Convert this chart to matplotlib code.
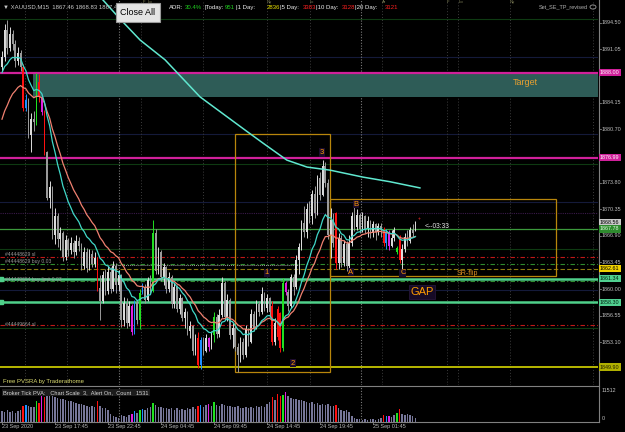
import matplotlib
matplotlib.use("Agg")
import matplotlib.pyplot as plt
from matplotlib.patches import Rectangle, Circle
import matplotlib.transforms as mtransforms

plt.rcParams['font.family'] = ['Liberation Sans', 'DejaVu Sans']

# ---------------- data ----------------
opens = [1888.8,1890.0,1893.6,1891.2,1893.0,1891.8,1889.5,1890.6,1888.8,1883.4,
         1884.5,1880.0,1882.0,1881.6,1886.8,1884.9,1882.9,1877.7,1871.8,1873.2,
         1867.0,1869.5,1866.5,1867.2,1864.2,1866.4,1865.0,1866.0,1864.8,1866.2,
         1865.6,1863.0,1864.8,1862.7,1864.6,1863.2,1864.0,1860.1,1858.5,1861.8,
         1859.8,1862.2,1860.0,1863.0,1860.5,1861.8,1856.0,1858.2,1855.6,1857.8,
         1854.4,1858.2,1856.0,1859.5,1860.3,1858.6,1861.2,1859.8,1867.3,1862.4,
         1864.8,1861.6,1862.8,1860.0,1861.5,1858.0,1860.2,1857.4,1858.8,1856.2,
         1857.0,1854.5,1855.2,1852.0,1853.6,1850.1,1853.4,1852.0,1853.6,1852.5,
         1854.0,1856.4,1854.2,1856.6,1860.8,1856.4,1858.6,1854.0,1855.0,1852.5,
         1851.4,1853.2,1851.5,1854.8,1853.2,1856.8,1855.0,1858.0,1857.0,1859.4,
         1857.6,1858.8,1857.8,1853.1,1857.4,1856.9,1852.3,1860.8,1859.6,1857.8,
         1861.6,1860.2,1863.8,1865.4,1868.5,1867.4,1870.4,1869.4,1872.3,1869.8,
         1874.4,1872.2,1876.0,1873.8,1867.0,1869.0,1869.8,1863.4,1866.6,1863.4,
         1865.8,1863.0,1866.0,1869.5,1868.0,1869.6,1867.8,1869.4,1867.8,1868.8,
         1867.2,1868.4,1867.4,1868.2,1867.6,1866.0,1867.4,1865.6,1866.6,1864.8,
         1866.8,1863.8,1865.2,1866.8,1866.2,1867.6,1867.46]
highs = [1890.8,1894.3,1894.9,1893.9,1893.6,1892.2,1891.4,1891.0,1889.2,1885.2,
         1884.8,1882.8,1883.0,1888.0,1887.8,1885.2,1883.2,1877.9,1874.0,1873.4,
         1870.5,1869.8,1868.0,1867.5,1867.0,1866.6,1866.8,1866.4,1867.0,1866.8,
         1865.9,1865.5,1865.3,1865.2,1865.0,1864.8,1864.2,1861.8,1862.4,1862.6,
         1863.0,1862.8,1863.6,1863.4,1862.5,1862.0,1859.0,1858.8,1858.5,1858.0,
         1858.6,1858.6,1860.0,1860.8,1860.6,1861.6,1861.8,1868.9,1867.8,1865.4,
         1865.0,1863.4,1863.0,1862.2,1861.8,1860.8,1860.5,1859.3,1859.0,1857.6,
         1857.2,1855.8,1855.4,1854.2,1854.4,1853.8,1853.8,1854.2,1853.8,1854.6,
         1857.0,1856.8,1857.4,1861.6,1861.0,1859.4,1858.8,1855.6,1855.2,1853.0,
         1853.8,1853.6,1855.4,1855.0,1857.4,1857.2,1858.6,1858.4,1860.2,1859.6,
         1859.4,1859.0,1858.4,1856.2,1857.8,1857.0,1861.4,1861.0,1860.0,1862.0,
         1862.0,1864.4,1866.0,1869.0,1870.8,1871.2,1871.4,1872.8,1873.4,1874.8,
         1875.2,1876.7,1876.4,1874.2,1870.5,1869.8,1870.0,1867.2,1867.0,1866.4,
         1866.2,1867.0,1870.0,1870.6,1870.4,1869.8,1870.0,1869.6,1869.4,1869.0,
         1868.8,1868.6,1868.6,1868.6,1868.0,1867.8,1867.6,1867.6,1868.0,1865.6,
         1867.0,1865.8,1867.2,1867.6,1868.0,1868.4,1868.83]
lows = [1888.2,1889.6,1890.5,1890.8,1891.0,1888.8,1889.0,1888.3,1883.0,1883.0,
        1879.5,1877.7,1880.5,1881.2,1884.2,1882.5,1877.4,1871.5,1870.5,1866.5,
        1865.8,1865.5,1865.0,1863.6,1863.8,1864.3,1864.6,1864.0,1864.4,1864.9,
        1862.5,1862.6,1862.2,1862.5,1862.8,1862.8,1859.8,1856.0,1858.2,1859.2,
        1859.4,1859.5,1859.8,1859.5,1859.8,1855.1,1855.2,1855.0,1855.2,1854.0,
        1854.2,1855.5,1854.8,1859.3,1858.2,1858.5,1859.4,1859.6,1862.0,1862.0,
        1861.0,1860.5,1859.5,1859.6,1857.5,1857.6,1857.0,1856.8,1855.8,1855.0,
        1854.0,1853.6,1851.5,1851.4,1849.8,1849.6,1851.5,1851.8,1852.0,1852.2,
        1853.2,1853.6,1853.8,1856.4,1856.0,1855.8,1853.5,1852.4,1852.0,1849.2,
        1850.6,1851.0,1851.2,1852.6,1853.0,1854.5,1854.8,1856.5,1856.8,1857.2,
        1857.0,1856.4,1852.8,1852.8,1853.4,1851.8,1852.0,1859.2,1857.2,1857.5,
        1859.2,1860.0,1862.0,1865.0,1866.8,1866.6,1868.6,1868.4,1869.2,1869.6,
        1871.5,1872.0,1873.2,1866.5,1864.0,1865.4,1862.6,1862.6,1862.8,1863.0,
        1862.4,1862.6,1865.6,1867.5,1867.6,1867.2,1867.4,1867.2,1866.8,1866.6,
        1866.8,1866.4,1867.0,1866.8,1865.6,1865.2,1865.0,1865.4,1866.2,1864.5,
        1863.4,1862.4,1864.8,1865.6,1866.0,1866.8,1867.46]
closes = [1890.0,1893.6,1891.2,1893.0,1891.8,1889.5,1890.6,1888.8,1883.4,1884.5,
          1880.0,1882.0,1881.6,1886.8,1884.9,1882.9,1877.7,1871.8,1873.2,1867.0,
          1869.5,1866.5,1867.2,1864.2,1866.4,1865.0,1866.0,1864.8,1866.2,1865.6,
          1863.0,1864.8,1862.7,1864.6,1863.2,1864.0,1860.1,1858.5,1861.8,1859.8,
          1862.2,1860.0,1863.0,1860.5,1861.8,1856.0,1858.2,1855.6,1857.8,1854.4,
          1858.2,1856.0,1859.5,1860.3,1858.6,1861.2,1859.8,1867.3,1862.4,1864.8,
          1861.6,1862.8,1860.0,1861.5,1858.0,1860.2,1857.4,1858.8,1856.2,1857.0,
          1854.5,1855.2,1852.0,1853.6,1850.1,1853.4,1852.0,1853.6,1852.5,1854.0,
          1856.4,1854.2,1856.6,1860.8,1856.4,1858.6,1854.0,1855.0,1852.5,1851.4,
          1853.2,1851.5,1854.8,1853.2,1856.8,1855.0,1858.0,1857.0,1859.4,1857.6,
          1858.8,1857.0,1853.1,1855.6,1853.8,1852.3,1860.8,1859.6,1857.8,1861.6,
          1860.2,1863.8,1865.4,1868.5,1867.4,1870.4,1869.4,1872.3,1869.8,1874.4,
          1872.2,1876.0,1873.8,1867.0,1869.0,1866.0,1863.4,1866.6,1863.4,1865.8,
          1863.0,1866.0,1869.5,1868.0,1869.6,1867.8,1869.4,1867.8,1868.8,1867.2,
          1868.4,1867.4,1868.2,1867.6,1866.0,1867.4,1865.6,1866.6,1867.6,1865.3,
          1863.8,1865.2,1866.8,1866.2,1867.6,1867.2,1867.78]
# PVSRA classes: n normal, r climax bear, g climax bull, b rising bull, m rising bear
pvsra = ("nnnnnnnnrbnnngrmrnnnnnnnnnnnnnnnnnnnrnnnnnnnnnnnnmbngbnnngnnnnnnnnnnnnnnnn"
         "rbnnmngnnnnnnnnnnnnnnnnnnnnnrnrrgmnnnnnnnnnnnnnnnnnnrnnnnnnnnnnnnnnnnnrbmnngrnnnnnn")
volumes = [4200,3800,4500,3600,4000,3400,3900,4300,6000,6200,
           6000,5400,5600,8000,7200,9800,9500,10300,10000,9600,
           9300,9000,8600,8800,8200,7800,8000,7400,7200,6800,
           6600,6200,6000,5600,5800,5400,7700,6000,5200,5000,
           4400,3000,2200,1800,1500,2600,2000,1600,2400,3000,
           4200,3400,4300,4800,4400,5000,5400,7200,6200,5600,
           5400,5000,5200,4800,5200,4600,5000,4400,4800,4600,
           5000,4800,5400,4800,6000,6400,5600,6200,6600,5800,
           7600,6400,6000,6800,6200,5800,6000,5600,5400,5800,
           5200,5000,5400,5000,5600,5200,5800,5400,6000,5600,
           6800,7400,9400,8200,10400,9800,10200,11500,9600,9000,
           8600,8800,8200,8400,7800,7600,7200,7400,6800,7000,
           6400,6800,6200,6600,6000,5800,6200,5000,4600,4200,
           4400,3600,2000,1400,1000,800,700,900,600,800,
           1000,700,900,1200,2500,2000,2200,1600,2400,3200,
           4800,3000,2600,2800,2400,2000,1200]
fast_ma_period, fast_ma_seed = 13, 1887.7
slow_ma_period, slow_ma_seed = 21, 1881.2
long_ma_bars = [38.1, 44.5, 52.1, 61.5, 74.7, 91.7, 98.5, 107.5, 115.1, 123.8, 136.2, 146.4, 157.7]
long_ma_vals = [1897.44, 1895.0, 1892.26, 1889.7, 1884.9, 1880.6, 1878.9, 1876.7, 1875.8, 1875.4, 1874.5, 1873.9, 1873.1]

time_label_bars = [0, 20, 40, 60, 80, 100, 120, 140]
time_labels = ["23 Sep 2020", "23 Sep 17:45", "23 Sep 22:45", "24 Sep 04:45",
               "24 Sep 09:45", "24 Sep 14:45", "24 Sep 19:45", "25 Sep 01:45"]
price_ticks = [1894.50, 1891.05, 1884.15, 1880.70, 1873.80, 1870.35,
               1866.90, 1863.45, 1860.00, 1856.55, 1853.10]
level_labels = [(1888.00, "#d0209a", "#ffffff"), (1876.99, "#d0209a", "#ffffff"),
                (1868.56, "#c8c8c8", "#000000"), (1867.78, "#2e8b2e", "#e0ffe0"),
                (1862.61, "#f0d000", "#000000"), (1861.34, "#50d090", "#002010"),
                (1858.30, "#50d090", "#002010"), (1849.90, "#b0b000", "#202000")]
target_zone = (1884.9, 1888.0, 11.7)
box1 = (87.9, 123.8, 1849.3, 1880.07)
box2 = (123.8, 209.1, 1861.7, 1871.66)
wave_labels = [("3", 120.8, 1877.7), ("2", 109.8, 1850.4), ("1", 100.0, 1862.1),
               ("A", 131.7, 1862.2), ("B", 133.6, 1871.0), ("C", 151.3, 1862.1)]
session_lines = [8.7, 24.5, 52.5, 75.8, 100.0, 116.2, 143.4, 168.0, 172.0, 191.7, 223.0]
day_lines = [44.2, 135.5]
session_labels = [("F", 143), ("Lo", 148), ("Ny", 267), ("Lc", 310), ("Ar", 382),
                  ("F", 447), ("Lo", 459), ("Ny", 510)]
adr_pieces = [("ADR:", '#f0f0f0', 169), ("30.4%", '#20d020', 184.5), ("|Today:", '#f0f0f0', 204.5),
              ("951", '#20d020', 225), ("|1 Day:", '#f0f0f0', 236), ("2836", '#e8e000', 266.3),
              ("|5 Day:", '#f0f0f0', 280), ("3383", '#ff2020', 302.3), ("|10 Day:", '#f0f0f0', 316),
              ("3128", '#ff2020', 341.6), ("|20 Day:", '#f0f0f0', 355), ("3121", '#ff2020', 384.3)]

# ---------------- figure ----------------
W, H = 625, 432
fig = plt.figure(figsize=(6.25, 4.32), dpi=100, facecolor='black')


def fx(x):
    return x / W


def fy(y):
    return 1 - y / H


ax = fig.add_axes([0, fy(385), fx(598), 385 / H])
axv = fig.add_axes([0, fy(421.5), fx(598), (421.5 - 386) / H])
for a in (ax, axv):
    a.set_facecolor('black')
    a.set_xticks([]); a.set_yticks([])
    for s in a.spines.values():
        s.set_visible(False)

n = len(closes)
xs = list(range(n))
ax.set_xlim(-0.75, 224.9)
ax.set_ylim(1847.57, 1897.44)
axv.set_xlim(-0.75, 224.9)
axv.set_ylim(0, 13620)

# faint horizontal reference lines
for p, c in [(1894.97, '#0e3a12'), (1876.2, '#0e3a12'), (1865.2, '#0e3a12'), (1855.0, '#0e3a12'),
             (1890.06, '#141a3a'), (1880.07, '#141a3a'), (1871.3, '#141a3a'), (1859.9, '#141a3a')]:
    ax.axhline(p, color=c, lw=0.8, zorder=1)
ax.axhline(1869.9, color='#3a1a4a', lw=0.8, ls=(0, (1, 1)), zorder=1)

# vertical session lines
for b in session_lines:
    ax.axvline(b, color='#3c3c3c', lw=0.7, ls=(0, (1, 2)), zorder=1)
for b in day_lines:
    ax.axvline(b, color='#7a7a7a', lw=0.8, ls=(0, (1, 1.5)), zorder=1)
    axv.axvline(b, color='#7a7a7a', lw=0.8, ls=(0, (1, 1.5)), zorder=1)

# target zone
ax.add_patch(Rectangle((target_zone[2], target_zone[0]), 300, target_zone[1] - target_zone[0],
                       fc='#2e5c57', ec='none', zorder=1.5))
ax.axhline(1888.00, color='#d0209a', lw=1.6, zorder=2)
ax.axhline(1876.99, color='#d0209a', lw=1.6, zorder=2)
ax.axhline(1867.78, color='#3c9a3c', lw=0.9, zorder=2)
ax.axhline(1864.2, color='#c01818', lw=0.8, ls=(0, (4, 2, 1, 2)), zorder=2)
ax.axhline(1855.4, color='#c01818', lw=0.8, ls=(0, (4, 2, 1, 2)), zorder=2)
ax.axhline(1863.2, color='#2e8b2e', lw=0.8, ls=(0, (4, 2, 1, 2)), zorder=2)
ax.axhline(1861.0, color='#2e8b2e', lw=0.8, ls=(0, (4, 2, 1, 2)), zorder=2)
ax.axhline(1862.61, color='#8b7a10', lw=0.8, ls=(0, (4, 2)), zorder=2)
ax.plot([40, 112], [1863.15, 1863.15], color='#9a9a9a', lw=0.7, ls=(0, (1, 1)), zorder=2)
ax.axhline(1861.34, color='#4fd08a', lw=1.8, zorder=2)
ax.axhline(1858.30, color='#4fd08a', lw=1.8, zorder=2)
ax.plot([-0.5], [1861.34], 's', color='#4fd08a', ms=2.5, zorder=2)
ax.plot([-0.5], [1858.30], 's', color='#4fd08a', ms=2.5, zorder=2)
ax.axhline(1849.90, color='#b8b800', lw=1.4, zorder=2)

# boxes
for (x0, x1, y0, y1) in (box1, box2):
    ax.add_patch(Rectangle((x0, y0), x1 - x0, y1 - y0, fill=False, ec='#b8860b', lw=0.9, zorder=2.5))

# candles
col_map = {'r': '#ff1010', 'g': '#20e020', 'b': '#1e90ff', 'm': '#e020e0'}
ccols = []
for o, c, k in zip(opens, closes, pvsra):
    if k == 'n':
        ccols.append('#dcdcdc' if c >= o else '#9a9a9a')
    else:
        ccols.append(col_map[k])
ax.vlines(xs, lows, highs, colors=ccols, lw=0.7, zorder=3)
bottoms = [min(o, c) for o, c in zip(opens, closes)]
heights = [max(abs(c - o), 0.12) for o, c in zip(opens, closes)]
ax.bar(xs, heights, bottom=bottoms, width=0.62, color=ccols, lw=0, zorder=3)


def ema(vals, period, seed):
    a = 2.0 / (period + 1)
    e = seed
    out = []
    for v in vals:
        e = e + a * (v - e)
        out.append(e)
    return out


ax.plot(xs, ema(closes, slow_ma_period, slow_ma_seed), color='#f08070', lw=0.9, zorder=4)
ax.plot(xs, ema(closes, fast_ma_period, fast_ma_seed), color='#40d8c8', lw=0.9, zorder=4)
ax.plot(long_ma_bars, long_ma_vals, color='#60e8d0', lw=1.1, zorder=4)

# wave labels
for t, b, p in wave_labels:
    ax.text(b, p, t, color='#ff9900', fontsize=5.5, ha='center', va='center', zorder=6,
            bbox=dict(boxstyle='square,pad=0.1', fc='#1c0c2c', ec='none'))
ax.text(175.5, 1862.0, "SR-flip", color='#e09020', fontsize=5, ha='center', va='center', zorder=6)
ax.text(158.5, 1859.6, "GAP", color='#ff9c00', fontsize=8, ha='center', va='center', zorder=6,
        bbox=dict(boxstyle='square,pad=0.15', fc='#160a26', ec='#2a1840', lw=0.5))
ax.text(159.4, 1868.05, "<--03:33", color='#e8e8e8', fontsize=4.8, ha='left', va='center', zorder=6)
ax.text(157.6, 1869.2, "+", color='#ff3030', fontsize=3.5, ha='center', va='center', zorder=6)
ax.text(197.4, 1886.7, "Target", color='#e8a030', fontsize=6.5, ha='center', va='center', zorder=6)

# volume bars
vcols = ['#77779a' if k == 'n' else col_map[k] for k in pvsra]
axv.bar(xs, volumes, width=0.55, color=vcols, lw=0)

# panel borders
fig.add_artist(plt.Line2D([fx(598.5), fx(598.5)], [fy(0), fy(422)], color='#808080', lw=0.8))
fig.add_artist(plt.Line2D([0, fx(598.5)], [fy(385.5), fy(385.5)], color='#808080', lw=0.8))
fig.add_artist(plt.Line2D([0, fx(598.5)], [fy(422), fy(422)], color='#808080', lw=0.8))

# right price axis
blend = mtransforms.blended_transform_factory(fig.transFigure, ax.transData)
for p in price_ticks:
    fig.text(fx(601.5), p, "%.2f" % p, transform=blend, color='#c0c0c0', fontsize=3.9,
             va='center', ha='left')
    fig.add_artist(plt.Line2D([fx(598.5), fx(600.5)], [p, p], transform=blend, color='#808080', lw=0.6))
for p, bg, fg in level_labels:
    fig.text(fx(600), p, "%.2f" % p, transform=blend, color=fg, fontsize=3.9, va='center', ha='left',
             bbox=dict(boxstyle='square,pad=0.2', fc=bg, ec='none'))
fig.text(fx(601.5), fy(390), "11512", color='#c0c0c0', fontsize=3.9, va='center', ha='left')
fig.text(fx(601.5), fy(419), "0", color='#c0c0c0', fontsize=3.9, va='center', ha='left')

# time axis labels
for b, t in zip(time_label_bars, time_labels):
    xp = 2 + 2.65 * b
    fig.text(fx(xp), fy(426.5), t, color='#b8b8b8', fontsize=4, va='center', ha='left')
    fig.add_artist(plt.Line2D([fx(xp), fx(xp)], [fy(422), fy(424)], color='#808080', lw=0.6))

# session labels (tiny, top edge)
for t, xp in session_labels:
    fig.text(fx(xp), fy(2.2), t, color='#8c8c60', fontsize=3.0, va='center', ha='left')

# order texts
for t, yp in [("#44448629 sl", 255), ("#44448629 buy 0.03", 262),
              ("#44449664 buy limit 0.03", 279), ("#44449664 sl", 324)]:
    fig.text(fx(5), fy(yp), t, color='#9a9a9a', fontsize=3.6, va='center', ha='left')

fig.text(fx(3), fy(381), "Free PVSRA by Traderathome", color='#dcdc70', fontsize=4.3, va='center', ha='left')
fig.text(fx(3), fy(392.5), "Broker Tick PVA:   Chart Scale  3,  Alert On,  Count   1531",
         color='#d8d8d8', fontsize=4.1, va='center', ha='left',
         bbox=dict(boxstyle='square,pad=0.25', fc='#1c1c1c', ec='none'))

# header
fig.text(fx(3), fy(6.5), "\u25bc XAUUSD,M15  1867.46 1868.83 1867.46 1867.46", color='#c8c8c8',
         fontsize=4.3, va='center', ha='left')
fig.add_artist(Rectangle((fx(116), fy(22)), fx(160) - fx(116), 19 / H, transform=fig.transFigure,
                         fc='#e4e4e4', ec='#9a9a9a', lw=0.8, zorder=5))
fig.text(fx(138), fy(12.5), "Close All", color='#000000', fontsize=6.5, va='center', ha='center', zorder=6)

# multi-coloured ADR line
for txt, col, xp in adr_pieces:
    fig.text(fx(xp), fy(7.5), txt, color=col, fontsize=4.3, va='center', ha='left')

fig.text(fx(588), fy(7), "Set_SE_TP_revised", color='#b0b0b0', fontsize=4, va='center', ha='right')
fig.add_artist(Circle((fx(593), fy(7)), 3 / W, transform=fig.transFigure, fill=False, ec='#a0a0a0', lw=0.6))

fig.savefig("out.png", dpi=100, facecolor='black')
